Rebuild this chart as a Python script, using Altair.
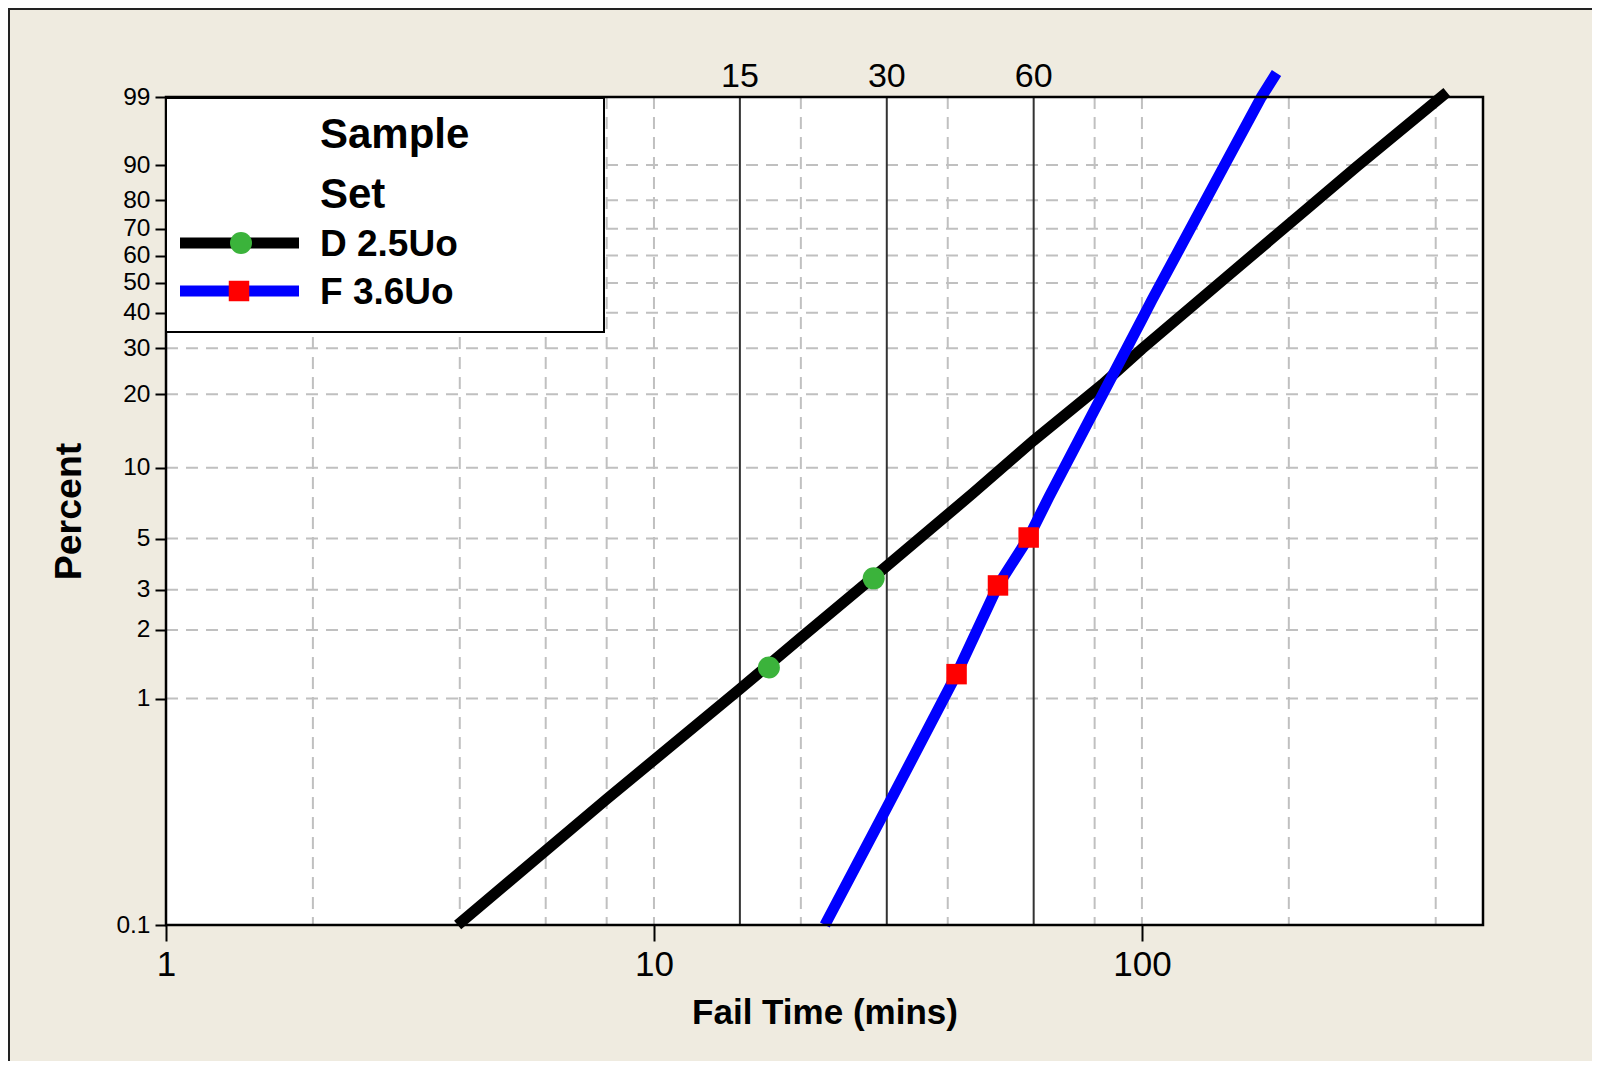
import math
import altair as alt
import pandas as pd

# ---------------- data ----------------
series = ["D 2.5Uo", "F 3.6Uo"]
line_colors = ["#000000", "#0000FF"]

d_time = [3.96, 8, 15, 20, 30, 45, 60, 82.9, 100, 150, 220, 274.8, 421.7]
d_pct = [0.1, 0.36, 1.1, 1.85, 3.8, 7.8, 13.0, 21.8, 29.8, 52.5, 77.7, 89.5, 99.2]

f_time = [22.4, 30, 41.7, 50.7, 58.6, 64.5, 70, 82.9, 100, 104.9, 134.1, 146.6, 175.7, 188.7]
f_pct = [0.1, 0.33, 1.28, 3.13, 5.05, 7.54, 10.4, 19.8, 38.0, 44.2, 79.0, 89.3, 99.0, 99.72]

d_mark_time = [17.2, 28.2]
d_mark_pct = [1.37, 3.36]
f_mark_time = [41.7, 50.7, 58.6]
f_mark_pct = [1.28, 3.13, 5.05]

y_tick_pct = [0.1, 1, 2, 3, 5, 10, 20, 30, 40, 50, 60, 70, 80, 90, 99]
y_grid_pct = [1, 2, 3, 5, 10, 20, 30, 40, 50, 60, 70, 80, 90]
x_tick_vals = [1, 10, 100]
x_grid_vals = [2, 4, 6, 8, 10, 20, 40, 80, 100, 200, 400]
ref_times = [15, 30, 60]
legend_title = ["Sample", "Set"]

# ---------------- layout ----------------
W, H = 1317, 828
CW, CH = 1584, 1053
PL, PT = 158, 89
FONT = "Liberation Sans"
BG = "#EFEBE0"
GRID = "#C0C0C0"


def wb(p):
    return math.log(-math.log(1 - p / 100.0))


y_lo, y_hi = wb(y_tick_pct[0]), wb(y_tick_pct[-1])
WEIB = "log(-log(1 - datum.pct/100))"

xs = alt.Scale(type="log", domain=[1, 500], nice=False)
ys = alt.Scale(domain=[y_lo, y_hi], nice=False, zero=False)

lines_df = pd.DataFrame({
    "series": [series[0]] * len(d_time) + [series[1]] * len(f_time),
    "time": d_time + f_time,
    "pct": d_pct + f_pct,
})
dmark_df = pd.DataFrame({"time": d_mark_time, "pct": d_mark_pct})
fmark_df = pd.DataFrame({"time": f_mark_time, "pct": f_mark_pct})
one = pd.DataFrame({"a": [0]})

x_axis = alt.Axis(
    values=x_tick_vals, format="~g", title="Fail Time (mins)", grid=False, domain=False,
    tickSize=16, tickWidth=2, tickColor="black", labelFont=FONT, labelFontSize=35,
    labelColor="black", labelPadding=6, labelFlush=False, labelOverlap=False,
    titleFont=FONT, titleFontSize=35, titleFontWeight="bold", titleColor="black",
    titleY=98, titleBaseline="alphabetic",
)
y_axis = alt.Axis(
    values=[wb(p) for p in y_tick_pct],
    labelExpr="format(100*(1-exp(-exp(datum.value))), '.3~g')",
    title="Percent", grid=False, domain=False, tickSize=11, tickWidth=2,
    tickColor="black", labelFont=FONT, labelFontSize=24.5, labelColor="black",
    labelPadding=5, labelFlush=False, labelOverlap=False,
    titleFont=FONT, titleFontSize=37.5, titleFontWeight="bold", titleColor="black",
    titleX=-86, titleY=414, titleAngle=270, titleBaseline="alphabetic",
)


def X(field):
    return alt.X(field, scale=xs, axis=x_axis)


def Y(field):
    return alt.Y(field, scale=ys, axis=y_axis)


ygrid = alt.Chart(pd.DataFrame({"pct": y_grid_pct})).transform_calculate(wy=WEIB).mark_rule(
    color=GRID, strokeWidth=2, strokeDash=[12, 8]
).encode(y=Y("wy:Q"), x=alt.value(0), x2=alt.value(W))

xgrid = alt.Chart(pd.DataFrame({"time": x_grid_vals})).mark_rule(
    color=GRID, strokeWidth=2, strokeDash=[12, 8]
).encode(x=X("time:Q"), y=alt.value(0), y2=alt.value(H))

refs = alt.Chart(pd.DataFrame({"time": ref_times})).mark_rule(
    color="#333333", strokeWidth=2
).encode(x=X("time:Q"), y=alt.value(0), y2=alt.value(H))

ref_labels = alt.Chart(pd.DataFrame({"time": ref_times})).mark_text(
    font=FONT, fontSize=34, color="black", baseline="alphabetic", align="center"
).encode(x=X("time:Q"), y=alt.value(-10), text=alt.Text("time:Q", format="d"))

lines = alt.Chart(lines_df).transform_calculate(wy=WEIB).mark_line(
    strokeWidth=11, clip=False
).encode(
    x=X("time:Q"),
    y=Y("wy:Q"),
    color=alt.Color("series:N", scale=alt.Scale(domain=series, range=line_colors), legend=None),
    order="time:Q",
)

dmarks = alt.Chart(dmark_df).transform_calculate(wy=WEIB).mark_point(
    shape="circle", filled=True, size=484, color="#3BB33B", opacity=1
).encode(x=X("time:Q"), y=Y("wy:Q"))

fmarks = alt.Chart(fmark_df).transform_calculate(wy=WEIB).mark_point(
    shape="square", filled=True, size=420, color="#FF0000", opacity=1
).encode(x=X("time:Q"), y=Y("wy:Q"))

frame = alt.Chart(one).mark_rect(fillOpacity=0, stroke="black", strokeWidth=2.5).encode(
    x=alt.value(0), x2=alt.value(W), y=alt.value(0), y2=alt.value(H)
)

# legend (drawn by hand)
leg_box = alt.Chart(one).mark_rect(fill="white", stroke="black", strokeWidth=2).encode(
    x=alt.value(0), x2=alt.value(438), y=alt.value(1), y2=alt.value(235)
)
leg_layers = [leg_box]
for i, s in enumerate(legend_title):
    leg_layers.append(alt.Chart(one).mark_text(
        font=FONT, fontSize=42, fontWeight="bold", color="black", align="left", baseline="alphabetic"
    ).encode(x=alt.value(154), y=alt.value(51 + 60 * i), text=alt.value(s)))
for i, s in enumerate(series):
    yc = 146 + 48 * i
    leg_layers.append(alt.Chart(one).mark_rule(color=line_colors[i], strokeWidth=11).encode(
        x=alt.value(14), x2=alt.value(133), y=alt.value(yc)))
    leg_layers.append(alt.Chart(one).mark_text(
        font=FONT, fontSize=37, fontWeight="bold", color="black", align="left", baseline="alphabetic"
    ).encode(x=alt.value(154), y=alt.value(yc + 13), text=alt.value(s)))
leg_layers.append(alt.Chart(one).mark_point(shape="circle", filled=True, size=484, color="#3BB33B", opacity=1).encode(
    x=alt.value(75), y=alt.value(146)))
leg_layers.append(alt.Chart(one).mark_point(shape="square", filled=True, size=420, color="#FF0000", opacity=1).encode(
    x=alt.value(73), y=alt.value(194)))

# outer panel border lines (top and left edge)
border_top = alt.Chart(one).mark_rule(color="#222222", strokeWidth=2).encode(
    x=alt.value(-PL), x2=alt.value(CW - PL), y=alt.value(-PT + 1))
border_left = alt.Chart(one).mark_rule(color="#222222", strokeWidth=2).encode(
    x=alt.value(-PL + 1), y=alt.value(-PT), y2=alt.value(CH - PT))

chart = alt.layer(
    xgrid, ygrid, refs, lines, dmarks, fmarks, frame, *leg_layers, ref_labels, border_top, border_left
).properties(
    width=W, height=H,
    padding={"left": PL, "top": PT, "right": CW - PL - W, "bottom": CH - PT - H},
    autosize=alt.AutoSizeParams(type="none"),
    background=BG,
).configure_view(fill="white", stroke=None)

chart.save("out.html", embed_options={"renderer": "svg", "actions": False})
